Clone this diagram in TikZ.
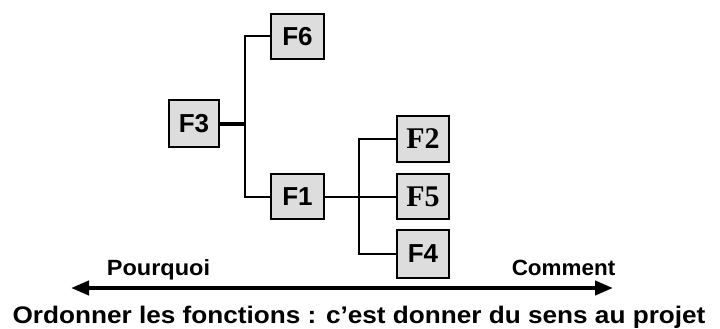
\documentclass[tikz,border=0pt]{standalone}
\usepackage{fontspec}
\usepackage{graphicx}
\setmainfont{Liberation Sans}
\newfontfamily\serifbf{Liberation Serif}
\usetikzlibrary{arrows.meta}
\definecolor{boxgray}{RGB}{221,221,221}
\tikzset{
  fbox/.style={draw=black, line width=1.8pt, fill=boxgray, inner sep=0pt,
    font=\fontsize{26}{28}\selectfont\bfseries},
  conn/.style={line width=2pt},
  axislbl/.style={font=\fontsize{22}{24}\selectfont\bfseries, anchor=base, inner sep=0pt}
}
\begin{document}
\begin{tikzpicture}[x=1pt,y=-1pt]
\useasboundingbox (0,0) rectangle (720,329);
\node[fbox, minimum width=53pt, minimum height=45pt] (f6) at (297.5,36.5) {F6};
\node[fbox, minimum width=50pt, minimum height=47pt] (f3) at (194,123.5) {F3};
\node[fbox, minimum width=53pt, minimum height=45pt] (f1) at (297.5,196.5) {F1};
\node[fbox, minimum width=52pt, minimum height=46pt, font=\fontsize{30}{32}\selectfont\serifbf\bfseries] (f2) at (423,139) {F2};
\node[fbox, minimum width=52pt, minimum height=45pt, font=\fontsize{30}{32}\selectfont\serifbf\bfseries] (f5) at (423,196.5) {F5};
\node[fbox, minimum width=52pt, minimum height=48pt] (f4) at (423,254) {F4};
\coordinate (b1) at (245,123.5);
\coordinate (b2) at (359,196.5);
\draw[line width=4pt] (f3.east) -- (b1);
\draw[conn] (f6.west) -| (b1) |- (f1.west);
\draw[conn] (f1.east) -- (f5.west);
\draw[conn] (f2.west) -| (b2) |- (f4.west);
\coordinate (al) at (71,288);
\coordinate (ar) at (613,288);
\draw[line width=4pt, {Triangle[length=18pt,width=14pt]}-{Triangle[length=18pt,width=14pt]}] (al) -- (ar);
\node[axislbl] (why) at (158.5,275) {\scalebox{1.07}[1]{Pourquoi}};
\node[axislbl] (how) at (563.5,275) {\scalebox{1.02}[1]{Comment}};
\node[axislbl, font=\fontsize{24}{26}\selectfont\bfseries] (title) at (359,323) {\scalebox{1.09}[1]{Ordonner les fonctions : c’est donner du sens au projet}};
\end{tikzpicture}
\end{document}
